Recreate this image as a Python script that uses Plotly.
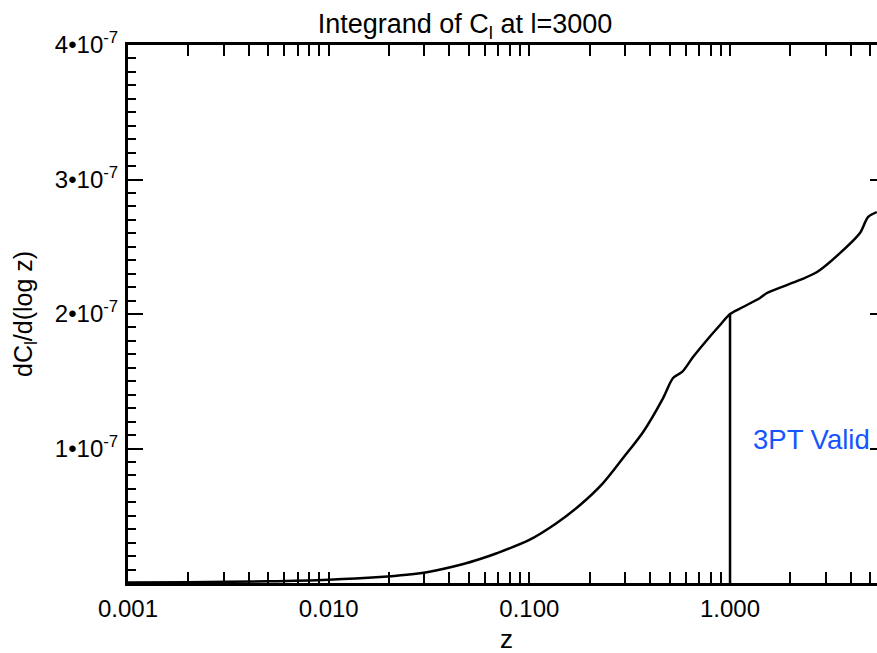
import numpy as np
import plotly.graph_objects as go

# Data
z_vals = [0.001, 0.002, 0.005, 0.010, 0.018, 0.0245, 0.0318, 0.0469, 0.0568, 0.0688,
          0.100, 0.137, 0.179, 0.233, 0.293, 0.369, 0.464, 0.520, 0.577, 0.654,
          0.768, 0.892, 1.000, 1.161, 1.411, 1.528, 2.232, 2.715, 3.54, 4.44, 4.87, 5.39]
dcl_vals = [0.004, 0.006, 0.013, 0.025, 0.045, 0.062, 0.084, 0.141, 0.178, 0.221,
            0.320, 0.446, 0.580, 0.743, 0.929, 1.123, 1.375, 1.524, 1.569, 1.680,
            1.807, 1.918, 2.000, 2.052, 2.119, 2.156, 2.253, 2.312, 2.454, 2.602, 2.721, 2.758]
dcl_vals = [v * 1e-7 for v in dcl_vals]

valid_z = [1.0, 1.0]
valid_y = [0.0, 2.0e-7]

x_tickvals = [0.001, 0.01, 0.1, 1.0]
x_ticktext = ["0.001", "0.010", "0.100", "1.000"]
y_tickvals = [0, 1e-7, 2e-7, 3e-7, 4e-7]
y_ticktext = ["", "1•10<sup>-7</sup>", "2•10<sup>-7</sup>", "3•10<sup>-7</sup>", "4•10<sup>-7</sup>"]

x_minor = [m * 10.0 ** d for d in range(-3, 1) for m in range(2, 10)]

FONT = "Liberation Sans, Arial, Helvetica, sans-serif"

fig = go.Figure()
fig.add_trace(go.Scatter(x=z_vals, y=dcl_vals, mode="lines",
                         line=dict(color="black", width=2.5, shape="spline", smoothing=0.8),
                         showlegend=False, hoverinfo="skip"))
fig.add_trace(go.Scatter(x=valid_z, y=valid_y, mode="lines",
                         line=dict(color="black", width=2.5), showlegend=False,
                         hoverinfo="skip"))
# invisible trace to activate right-side tick axis
fig.add_trace(go.Scatter(x=z_vals, y=dcl_vals, mode="lines", yaxis="y2",
                         line=dict(color="rgba(0,0,0,0)", width=0), showlegend=False,
                         hoverinfo="skip"))

xmax_log = np.log10(5.40)

fig.update_layout(
    width=877, height=653,
    margin=dict(l=128, r=0, t=45, b=70),
    paper_bgcolor="white", plot_bgcolor="white",
    font=dict(family=FONT, size=24, color="black"),
    title=dict(text="Integrand of C<sub>l</sub> at l=3000", font=dict(size=27),
               x=0.45, xref="paper", xanchor="center",
               y=1 - 23.5 / 653, yref="container", yanchor="middle"),
    xaxis=dict(type="log", range=[-3, xmax_log],
               tickmode="array", tickvals=x_tickvals, ticktext=x_ticktext,
               ticks="inside", ticklen=11, tickwidth=2, tickcolor="black",
               showline=True, linewidth=3, linecolor="black", mirror="allticks",
               showgrid=False, zeroline=False, ticklabelstandoff=2,
               minor=dict(tickvals=x_minor, ticks="inside", ticklen=5.5,
                          tickwidth=2, tickcolor="black", showgrid=False)),
    yaxis=dict(range=[0, 4e-7],
               tickmode="array", tickvals=y_tickvals, ticktext=y_ticktext,
               ticks="inside", ticklen=15, tickwidth=2, tickcolor="black",
               showline=True, linewidth=3, linecolor="black",
               showgrid=False, zeroline=False, ticklabelstandoff=2,
               minor=dict(dtick=1e-8, tick0=0, ticks="inside", ticklen=7.5,
                          tickwidth=2, tickcolor="black", showgrid=False)),
    yaxis2=dict(range=[0, 4e-7], overlaying="y", side="right",
                tickmode="array", tickvals=y_tickvals,
                ticks="inside", ticklen=7, tickwidth=2, tickcolor="black",
                showticklabels=False, showline=False, showgrid=False, zeroline=False),
    annotations=[
        dict(text="dC<sub>l</sub>/d(log z)", xref="paper", yref="paper",
             x=(25 - 128) / 749, y=0.5, xanchor="center", yanchor="middle",
             textangle=-90, showarrow=False, font=dict(size=25)),
        dict(text="z", xref="paper", yref="paper",
             x=(507 - 128) / 749, y=(583 - 639) / 538, xanchor="center",
             yanchor="middle", showarrow=False, font=dict(size=26)),
        dict(text="3PT Valid", xref="paper", yref="y",
             x=(751 - 128) / 749, y=1.07e-7, xanchor="left", yanchor="middle",
             showarrow=False, font=dict(size=27.5, color="rgb(20,85,255)")),
    ],
)

fig.write_html("out.html", config={"displayModeBar": False},
               post_script="document.body.style.margin='0px';"
                           "document.body.style.overflow='hidden';")
